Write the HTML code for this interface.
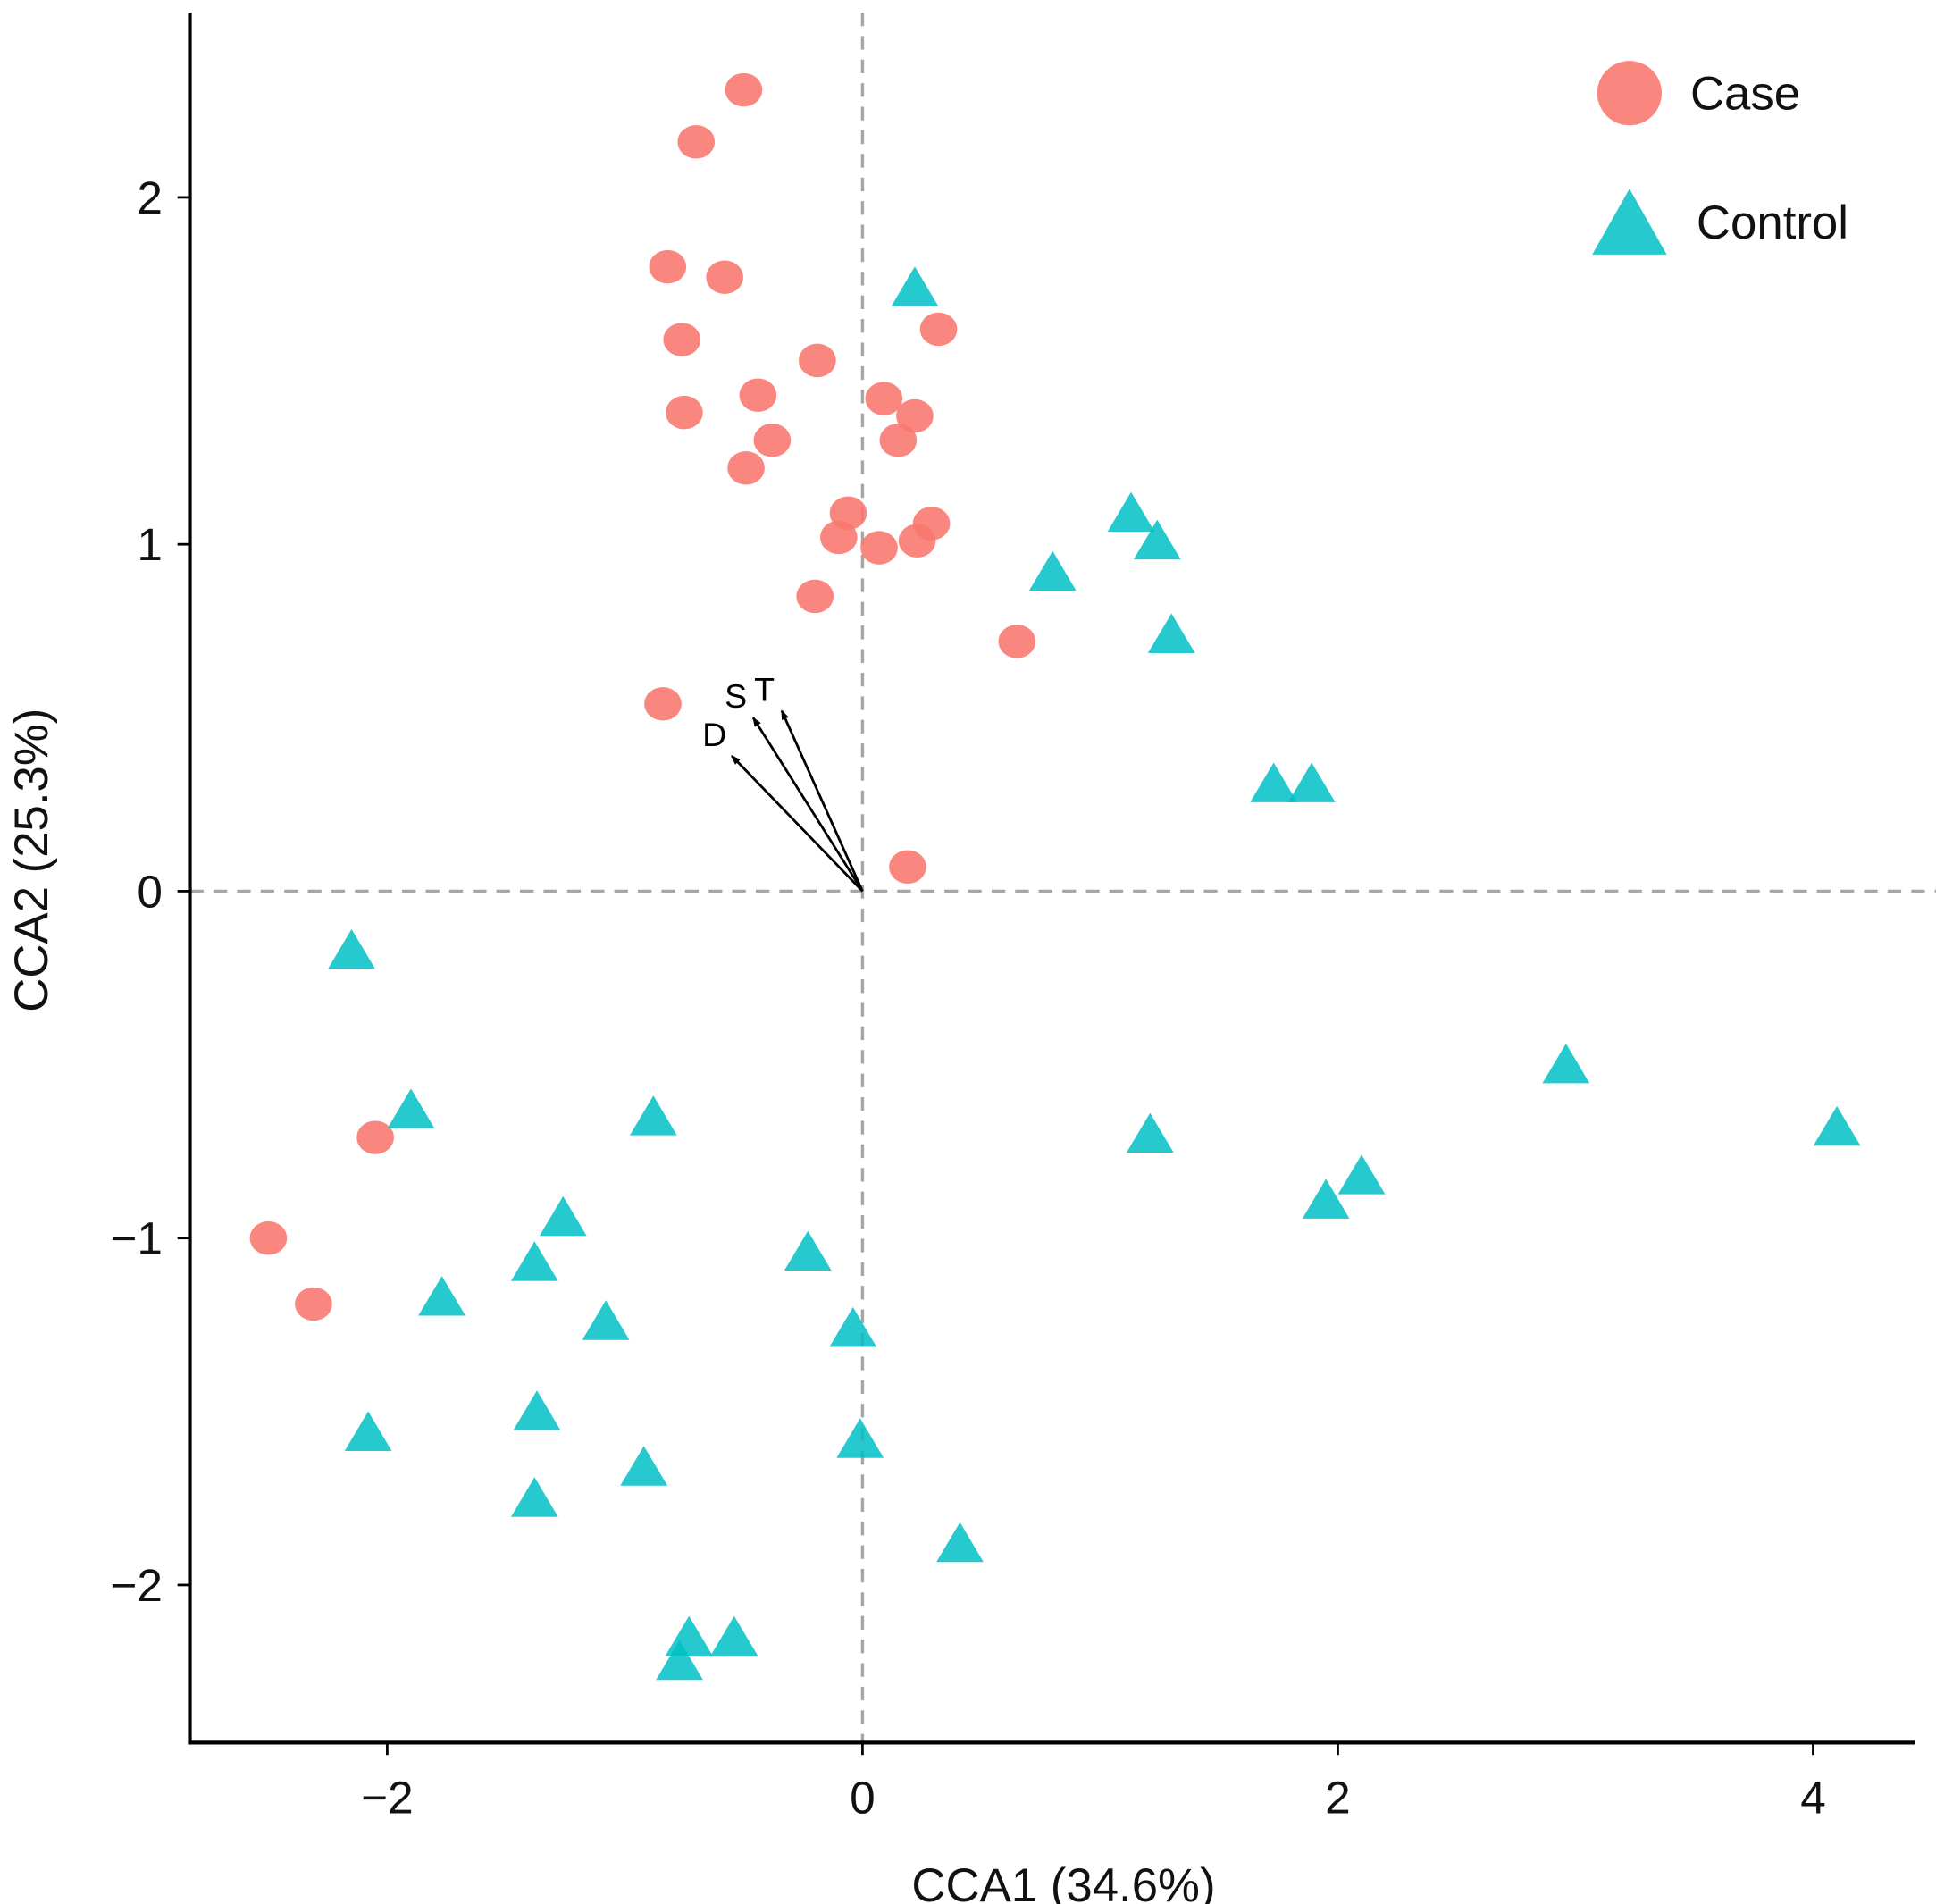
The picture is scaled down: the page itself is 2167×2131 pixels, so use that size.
<!DOCTYPE html>
<html><head><meta charset="utf-8"><style>
html,body{margin:0;padding:0;background:#fff;}
svg{display:block;font-family:"Liberation Sans",Arial,sans-serif;}
</style></head><body>
<svg id="chart" width="2167" height="2131" viewBox="0 0 1560 1534" xmlns="http://www.w3.org/2000/svg"></svg>
<script>
const caseX=[-0.50,-0.70,-0.82,-0.58,0.32,-0.76,-0.19,-0.44,0.09,-0.75,0.22,-0.38,0.15,-0.49,-0.06,-0.10,0.07,0.23,0.29,-0.20,0.65,-0.84,0.19,-2.05,-2.50,-2.31];
const caseY=[2.31,2.16,1.80,1.77,1.62,1.59,1.53,1.43,1.42,1.38,1.37,1.30,1.30,1.22,1.09,1.02,0.99,1.01,1.06,0.85,0.72,0.54,0.07,-0.71,-1.00,-1.19];
const ctrlX=[0.22,1.13,1.24,0.80,1.30,1.73,1.89,-2.15,-1.90,-0.88,2.96,4.10,1.21,2.10,1.95,-1.26,-1.38,-0.23,-1.77,-1.08,-0.04,-1.37,-2.08,-0.01,-0.92,-1.38,0.41,-0.73,-0.54,-0.77];
const ctrlY=[1.74,1.09,1.01,0.92,0.74,0.31,0.31,-0.17,-0.63,-0.65,-0.50,-0.68,-0.70,-0.82,-0.89,-0.94,-1.07,-1.04,-1.17,-1.24,-1.26,-1.50,-1.56,-1.58,-1.66,-1.75,-1.88,-2.15,-2.15,-2.22];
const arrowNames=["D","S","T"];
const arrowX=[-0.55,-0.46,-0.34];
const arrowY=[0.39,0.50,0.52];
const xTicks=[-2,0,2,4];
const yTicks=[-2,-1,0,1,2];
const xTickLabels=["\u22122","0","2","4"];
const yTickLabels=["\u22122","\u22121","0","1","2"];

const NS="http://www.w3.org/2000/svg";
const svg=document.getElementById('chart');
const X0=695,XU=191.5,Y0=718,YU=279.5;
const L=153,R=1543,T=10,B=1404;
function sx(v){return X0+XU*v;}
function sy(v){return Y0-YU*v;}
function mk(tag,attrs,parent){const e=document.createElementNS(NS,tag);for(const k in attrs)e.setAttribute(k,attrs[k]);(parent||svg).appendChild(e);return e;}

let g=mk('g',{});


let e=mk('line',{x1:sx(0),x2:sx(0),y1:T,y2:B,stroke:'#a6a6a6','stroke-width':2.5,'stroke-dasharray':'11,8'},g);


e=mk('line',{x1:L,x2:1560,y1:sy(0),y2:sy(0),stroke:'#a6a6a6','stroke-width':2.5,'stroke-dasharray':'11,8'},g);



g=mk('g',{});


for(let i=0;i<caseX.length;i++){
  e=mk('ellipse',{cx:sx(caseX[i]),cy:sy(caseY[i]),rx:15,ry:13.5,fill:'#F8766D','fill-opacity':0.88},g);
  
  
}
g=mk('g',{});


for(let i=0;i<ctrlX.length;i++){
  const cx=sx(ctrlX[i]),cy=sy(ctrlY[i]);
  e=mk('polygon',{points:`${cx},${cy-17} ${cx-19},${cy+15} ${cx+19},${cy+15}`,fill:'#00BFC4','fill-opacity':0.85},g);
  
  
}
mk('defs',{}).innerHTML='<marker id="ah" markerWidth="8" markerHeight="8" refX="7" refY="4" orient="auto" markerUnits="userSpaceOnUse"><path d="M0,1 L8,4 L0,7 z" fill="#000"/></marker>';
g=mk('g',{});


for(let i=0;i<arrowX.length;i++){
  const x2=sx(arrowX[i]),y2=sy(arrowY[i]);
  e=mk('line',{x1:sx(0),y1:sy(0),x2:x2,y2:y2,stroke:'#000','stroke-width':2,'marker-end':'url(#ah)'},g);
  
  
  const t=mk('text',{x:x2-14,y:y2-8,'font-size':27,'text-anchor':'middle',fill:'#000'},g);
  t.textContent=arrowNames[i];
  
  
}
e=mk('line',{x1:L,x2:L,y1:T,y2:B+1.5,stroke:'#000','stroke-width':3});


e=mk('line',{x1:L-1.5,x2:R,y1:B,y2:B,stroke:'#000','stroke-width':3});


for(let i=0;i<xTicks.length;i++){
  const x=sx(xTicks[i]);
  e=mk('line',{x1:x,x2:x,y1:B,y2:B+10,stroke:'#000','stroke-width':2});
  
  
  const t=mk('text',{x:x,y:B+57,'font-size':37,'text-anchor':'middle',fill:'#111'});
  t.textContent=xTickLabels[i];
  
  
}
for(let i=0;i<yTicks.length;i++){
  const y=sy(yTicks[i]);
  e=mk('line',{x1:L-10,x2:L,y1:y,y2:y,stroke:'#000','stroke-width':2});
  
  
  const t=mk('text',{x:L-22,y:y+13,'font-size':37,'text-anchor':'end',fill:'#111'});
  t.textContent=yTickLabels[i];
  
  
}
let t=mk('text',{x:857,y:1532,'font-size':38,'text-anchor':'middle',fill:'#111'});
t.textContent='CCA1 (34.6%)';


t=mk('text',{x:0,y:0,'font-size':38,'text-anchor':'middle',fill:'#111',transform:'translate(38,693) rotate(-90)'});
t.textContent='CCA2 (25.3%)';


g=mk('g',{});


e=mk('circle',{cx:1313,cy:75,r:26,fill:'#F8766D','fill-opacity':0.88},g);


t=mk('text',{x:1362,y:88,'font-size':38,fill:'#111'},g);
t.textContent='Case';


e=mk('polygon',{points:'1313,152 1283,205 1343,205',fill:'#00BFC4','fill-opacity':0.85},g);


t=mk('text',{x:1367,y:192,'font-size':38,fill:'#111'},g);
t.textContent='Control';


</script>
</body></html>
